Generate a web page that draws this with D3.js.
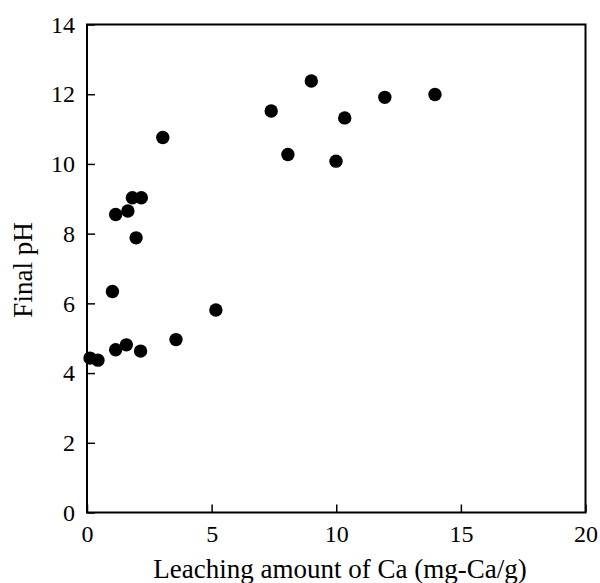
<!DOCTYPE html>
<html>
<head>
<meta charset="utf-8">
<script src="https://cdn.jsdelivr.net/npm/d3@7"></script>
<style>
  html, body { margin: 0; padding: 0; background: #fff; }
  svg text { font-family: "Liberation Serif", "Times New Roman", serif; fill: #000; }
</style>
</head>
<body>
<svg id="chart" width="600" height="583"></svg>
<script>
// Leaching amount of Ca (mg-Ca/g) vs final pH
const leachCa = [0.12, 0.44, 1.02, 1.15, 1.15, 1.58, 1.64, 1.82, 1.97, 2.15, 2.18, 3.04, 3.57, 5.17,
  7.39, 8.06, 9.0, 9.99, 10.34, 11.95, 13.96];
const finalPH = [4.43, 4.37, 6.34, 8.55, 4.67, 4.81, 8.65, 9.03, 7.88, 4.63, 9.03, 10.76, 4.96, 5.81,
  11.52, 10.27, 12.38, 10.08, 11.32, 11.91, 11.99];
const xTicks = [0, 5, 10, 15, 20];
const yTicks = [0, 2, 4, 6, 8, 10, 12, 14];

const svg = d3.select("#chart");
const margin = { top: 24.5, right: 14.5, bottom: 70.5, left: 87 };
const width = 600 - margin.left - margin.right;
const height = 583 - margin.top - margin.bottom;

const g = svg.append("g").attr("transform", `translate(${margin.left},${margin.top})`);

const x = d3.scaleLinear().domain([0, 20]).range([0, width]);
const y = d3.scaleLinear().domain([0, 14]).range([height, 0]);

// axes: ticks point inward
const xAxis = g.append("g")
  .attr("transform", `translate(0,${height})`)
  .call(d3.axisBottom(x).tickValues(xTicks).tickSize(-8).tickPadding(12));
const yAxis = g.append("g")
  .call(d3.axisLeft(y).tickValues(yTicks).tickSize(-8).tickPadding(12));

[xAxis, yAxis].forEach((ax) => {
  ax.select(".domain").remove();
  ax.selectAll("line").attr("stroke", "#000").attr("stroke-width", 1.5);
  ax.selectAll("text")
    .style("font-size", "24px")
    .attr("fill", "#000");
});

// frame
g.append("rect")
  .attr("width", width)
  .attr("height", height)
  .attr("fill", "none")
  .attr("stroke", "#000")
  .attr("stroke-width", 2);

// points
g.selectAll("circle.pt")
  .data(leachCa.map((v, i) => [v, finalPH[i]]))
  .join("circle")
  .attr("class", "pt")
  .attr("cx", (d) => x(d[0]))
  .attr("cy", (d) => y(d[1]))
  .attr("r", 6.7)
  .attr("fill", "#000");

// axis titles
svg.append("text")
  .attr("x", 340)
  .attr("y", 578)
  .attr("text-anchor", "middle")
  .style("font-size", "27px")
  .text("Leaching amount of Ca (mg-Ca/g)");

svg.append("text")
  .attr("transform", "translate(32,270) rotate(-90)")
  .attr("text-anchor", "middle")
  .style("font-size", "27px")
  .text("Final pH");
</script>
</body>
</html>
